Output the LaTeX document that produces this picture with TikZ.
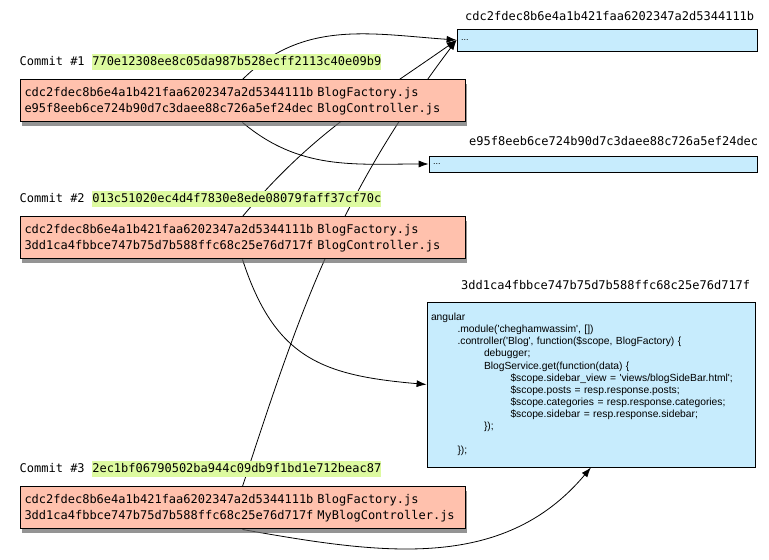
\documentclass[tikz,border=0pt]{standalone}
\usepackage{fontspec}
\usepackage{xcolor}
\usepackage{tikz}
\usetikzlibrary{arrows.meta, positioning, shadows, backgrounds}

\newfontfamily\hashfont{DejaVu Sans Mono}
\newfontfamily\codefont{Liberation Sans}
\definecolor{commitred}{RGB}{255,193,173}
\definecolor{blobblue}{RGB}{199,236,253}
\definecolor{hashgreen}{RGB}{221,250,160}
\newcommand{\tb}{\hspace*{26.5pt}}

\begin{document}
\begin{tikzpicture}[x=1pt, y=1pt]
    % Styles
    \tikzstyle{commit} = [rectangle, draw, line width=1pt, fill=commitred, text width=436pt, align=left, inner xsep=4.5pt, minimum height=42pt, font=\hashfont\fontsize{12}{16}\selectfont, drop shadow={shadow xshift=1.5pt, shadow yshift=-4pt, fill=black!60, opacity=.7}]
    \tikzstyle{blob} = [rectangle, draw, line width=0.8pt, fill=blobblue, align=left, inner xsep=4pt, font=\codefont\fontsize{9}{10}\selectfont]
    \tikzstyle{tag} = [inner xsep=0pt, inner ysep=2pt, text height=9pt, text depth=2.5pt, font=\hashfont\fontsize{12}{14}\selectfont]
    \tikzstyle{hash} = [tag, fill=hashgreen]
    \tikzstyle{line} = [draw, -{Latex[length=10pt, width=7pt]}, line width=0.8pt]

    \useasboundingbox (0,0) rectangle (769,560);

    % --- COMMITS ---
    \node [commit] (c1) at (242.5,459) {cdc2fdec8b6e4a1b421faa6202347a2d5344111b BlogFactory.js\\e95f8eeb6ce724b90d7c3daee88c726a5ef24dec BlogController.js};
    \node [commit, below=94pt of c1] (c2) {cdc2fdec8b6e4a1b421faa6202347a2d5344111b BlogFactory.js\\3dd1ca4fbbce747b75d7b588ffc68c25e76d717f BlogController.js};
    \node [commit, below=227pt of c2] (c3) {cdc2fdec8b6e4a1b421faa6202347a2d5344111b BlogFactory.js\\3dd1ca4fbbce747b75d7b588ffc68c25e76d717f MyBlogController.js};

    \node [tag, above right=9.5pt and 0pt of c1.north west] (c1name) {Commit \#1};
    \node [hash, right=7.2pt of c1name] (c1hash) {770e12308ee8c05da987b528ecff2113c40e09b9};
    \node [tag, above right=9.5pt and 0pt of c2.north west] (c2name) {Commit \#2};
    \node [hash, right=7.2pt of c2name] (c2hash) {013c51020ec4d4f7830e8ede08079faff37cf70c};
    \node [tag, above right=9.5pt and 0pt of c3.north west] (c3name) {Commit \#3};
    \node [hash, right=7.2pt of c3name] (c3hash) {2ec1bf06790502ba944c09db9f1bd1e712beac87};

    % --- BLOBS ---
    \node [blob, text width=292pt, minimum height=22pt] (b1) at (607,520) {...};
    \node [blob, text width=320pt, minimum height=16pt] (b2) at (593,396) {...};
    \node [blob, text width=320pt, minimum height=165pt, font=\codefont\fontsize{10.3}{12.1}\selectfont] (b3) at (591,175.5) {angular\\
\tb .module('cheghamwassim', [])\\
\tb .controller('Blog', function(\$scope, BlogFactory) \{\\
\tb\tb debugger;\\
\tb\tb BlogService.get(function(data) \{\\
\tb\tb\tb \$scope.sidebar\_view = 'views/blogSideBar.html';\\
\tb\tb\tb \$scope.posts = resp.response.posts;\\
\tb\tb\tb \$scope.categories = resp.response.categories;\\
\tb\tb\tb \$scope.sidebar = resp.response.sidebar;\\
\tb\tb \});\\
\mbox{}\\
\tb \});};

    \node [tag, above left=3.2pt and 3pt of b1.north east] (b1hash) {cdc2fdec8b6e4a1b421faa6202347a2d5344111b};
    \node [tag, above left=5.2pt and -1pt of b2.north east] (b2hash) {e95f8eeb6ce724b90d7c3daee88c726a5ef24dec};
    \node [tag, above left=7.2pt and 5pt of b3.north east] (b3hash) {3dd1ca4fbbce747b75d7b588ffc68c25e76d717f};

    % --- CONNECTIONS ---
    \begin{scope}[on background layer]
    \path [line] (c1.north) to[out=45, in=176] (b1.west);
    \path [line] (c1.south) to[out=-40, in=180] (b2.west);
    \path [line] (c2.north) to[out=50, in=215] (b1.west);
    \path [line] (c3.north) to[out=72, in=233] (b1.west);
    \path [line] (c2.south) to[out=-72, in=175, looseness=1.2] (b3.west);
    \path [line] (c3.south) to[out=-10, in=-130] (b3.south);
    \end{scope}

\end{tikzpicture}
\end{document}
